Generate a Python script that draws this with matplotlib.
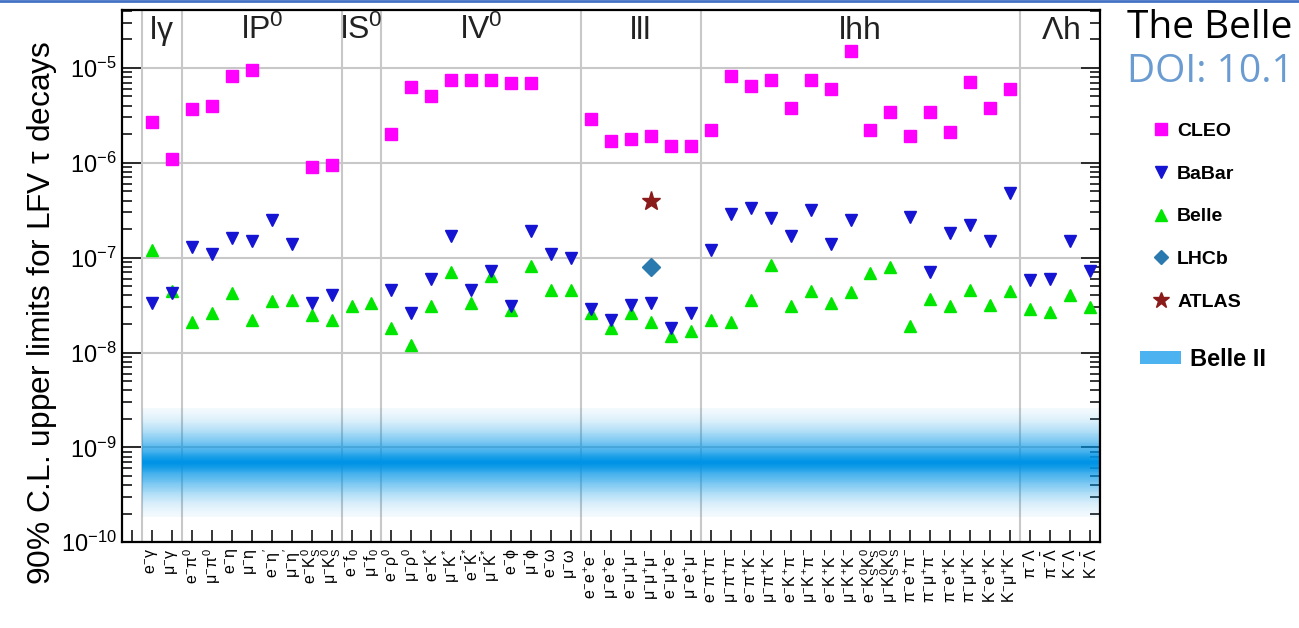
import numpy as np
import matplotlib
matplotlib.use('Agg')
import matplotlib.pyplot as plt
from matplotlib.lines import Line2D
from matplotlib.patches import Patch
from matplotlib.colors import LinearSegmentedColormap

plt.rcParams['font.family'] = ['Liberation Sans', 'DejaVu Sans']
plt.rcParams['mathtext.fontset'] = 'custom'
plt.rcParams['mathtext.rm'] = 'Liberation Sans'
plt.rcParams['mathtext.it'] = 'Liberation Sans'
plt.rcParams['mathtext.bf'] = 'Liberation Sans:bold'
plt.rcParams['mathtext.sf'] = 'Liberation Sans'

nan = np.nan

# decay channels (tau- -> ...), in plot order
channels = [r'$e^{-}\gamma$', r'$\mu^{-}\gamma$',
            r'$e^{-}\pi^{0}$', r'$\mu^{-}\pi^{0}$', r'$e^{-}\eta$', r'$\mu^{-}\eta$',
            r"$e^{-}\eta^{\prime}$", r"$\mu^{-}\eta^{\prime}$", r'$e^{-}K_{S}^{0}$', r'$\mu^{-}K_{S}^{0}$',
            r'$e^{-}f_{0}$', r'$\mu^{-}f_{0}$',
            r'$e^{-}\rho^{0}$', r'$\mu^{-}\rho^{0}$', r'$e^{-}K^{*}$', r'$\mu^{-}K^{*}$',
            r'$e^{-}\bar{K}^{*}$', r'$\mu^{-}\bar{K}^{*}$', r'$e^{-}\phi$', r'$\mu^{-}\phi$',
            r'$e^{-}\omega$', r'$\mu^{-}\omega$',
            r'$e^{-}e^{+}e^{-}$', r'$\mu^{-}e^{+}e^{-}$', r'$e^{-}\mu^{+}\mu^{-}$',
            r'$\mu^{-}\mu^{+}\mu^{-}$', r'$e^{-}\mu^{+}e^{-}$', r'$\mu^{-}e^{+}\mu^{-}$',
            r'$e^{-}\pi^{+}\pi^{-}$', r'$\mu^{-}\pi^{+}\pi^{-}$', r'$e^{-}\pi^{+}K^{-}$', r'$\mu^{-}\pi^{+}K^{-}$',
            r'$e^{-}K^{+}\pi^{-}$', r'$\mu^{-}K^{+}\pi^{-}$', r'$e^{-}K^{+}K^{-}$', r'$\mu^{-}K^{+}K^{-}$',
            r'$e^{-}K_{S}^{0}K_{S}^{0}$', r'$\mu^{-}K_{S}^{0}K_{S}^{0}$',
            r'$\pi^{-}e^{+}\pi^{-}$', r'$\pi^{-}\mu^{+}\pi^{-}$', r'$\pi^{-}e^{+}K^{-}$', r'$\pi^{-}\mu^{+}K^{-}$',
            r'$K^{-}e^{+}K^{-}$', r'$K^{-}\mu^{+}K^{-}$',
            r'$\pi^{-}\Lambda$', r'$\pi^{-}\bar{\Lambda}$', r'$K^{-}\Lambda$', r'$K^{-}\bar{\Lambda}$']

groups = [r'l$\gamma$', r'lP$^{0}$', r'lS$^{0}$', r'lV$^{0}$', 'lll', 'lhh', r'$\Lambda$h']
group_sizes = [2, 8, 2, 10, 6, 16, 4]

cleo = [2.7e-6, 1.1e-6, 3.7e-6, 4.0e-6, 8.2e-6, 9.6e-6, nan, nan, 9.1e-7, 9.5e-7,
        nan, nan,
        2.0e-6, 6.3e-6, 5.1e-6, 7.5e-6, 7.4e-6, 7.5e-6, 6.9e-6, 7.0e-6, nan, nan,
        2.9e-6, 1.7e-6, 1.8e-6, 1.9e-6, 1.5e-6, 1.5e-6,
        2.2e-6, 8.2e-6, 6.4e-6, 7.5e-6, 3.8e-6, 7.4e-6, 6.0e-6, 1.5e-5,
        2.2e-6, 3.4e-6, 1.9e-6, 3.4e-6, 2.1e-6, 7.1e-6, 3.8e-6, 6.0e-6,
        nan, nan, nan, nan]

babar = [3.3e-8, 4.2e-8, 1.3e-7, 1.1e-7, 1.6e-7, 1.5e-7, 2.5e-7, 1.4e-7, 3.3e-8, 4.0e-8,
         nan, nan,
         4.6e-8, 2.6e-8, 5.9e-8, 1.7e-7, 4.6e-8, 7.3e-8, 3.1e-8, 1.9e-7, 1.1e-7, 1.0e-7,
         2.9e-8, 2.2e-8, 3.2e-8, 3.3e-8, 1.8e-8, 2.6e-8,
         1.2e-7, 2.9e-7, 3.3e-7, 2.6e-7, 1.7e-7, 3.2e-7, 1.4e-7, 2.5e-7,
         nan, nan, 2.7e-7, 7.0e-8, 1.8e-7, 2.2e-7, 1.5e-7, 4.8e-7,
         5.8e-8, 5.9e-8, 1.5e-7, 7.2e-8]

belle = [1.2e-7, 4.5e-8, 2.1e-8, 2.6e-8, 4.2e-8, 2.2e-8, 3.5e-8, 3.6e-8, 2.5e-8, 2.2e-8,
         3.1e-8, 3.3e-8,
         1.8e-8, 1.2e-8, 3.1e-8, 7.0e-8, 3.3e-8, 6.4e-8, 2.8e-8, 8.1e-8, 4.6e-8, 4.6e-8,
         2.6e-8, 1.8e-8, 2.6e-8, 2.1e-8, 1.5e-8, 1.7e-8,
         2.2e-8, 2.1e-8, 3.6e-8, 8.4e-8, 3.1e-8, 4.4e-8, 3.3e-8, 4.3e-8,
         6.9e-8, 7.9e-8, 1.9e-8, 3.7e-8, 3.1e-8, 4.6e-8, 3.2e-8, 4.5e-8,
         2.9e-8, 2.7e-8, 4.0e-8, 3.0e-8]

lhcb_chan, lhcb = [25], [8.0e-8]
atlas_chan, atlas = [25], [4.0e-7]

# Belle II expected reach (band)
belle2_lo, belle2_hi = 1.85e-10, 2.6e-9

x = np.arange(len(channels))

fig = plt.figure(figsize=(12.99, 6.28), dpi=100)
ax = fig.add_axes([122/1299, 1 - 542.3/628, 978/1299, 532.3/628])

# group separators and decade grid
edges = np.concatenate([[-0.5], np.cumsum(group_sizes) - 0.5])
for b in edges[:-1]:
    ax.axvline(b, color='#c8c8c8', lw=1.5, zorder=0.5)
ax.set_yscale('log')
ax.yaxis.grid(True, which='major', color='#c8c8c8', lw=1.5)
ax.set_axisbelow(True)

# Belle II band with a soft vertical gradient (even steps in log space)
n = 120
yb = np.logspace(np.log10(belle2_lo), np.log10(belle2_hi), n + 1)
t = np.linspace(-1, 1, n)
alpha = np.clip(0.8*np.exp(-t**2/(2*0.42**2)) + 0.2*np.exp(-t**2/(2*0.1**2)), 0, 1)
band_cmap = LinearSegmentedColormap.from_list('b2', [(0.0, 0.58, 0.9, 0.0), (0.0, 0.58, 0.9, 1.0)])
ax.pcolormesh([edges[0], edges[-1]], yb, alpha[:, None], cmap=band_cmap, vmin=0, vmax=1,
              shading='flat', zorder=1, edgecolors='none', antialiased=False)

ax.plot(x, belle, '^', color='#00e600', ms=8, ls='none', zorder=3)
ax.plot(x, babar, 'v', color='#1414d2', ms=8, ls='none', zorder=3)
ax.plot(x, cleo, 's', color='#ff00ff', ms=8, ls='none', zorder=3)
ax.plot(lhcb_chan, lhcb, 'D', color='#2a7ab0', ms=9, ls='none', zorder=4)
ax.plot(atlas_chan, atlas, '*', color='#8b1a1a', ms=14, ls='none', zorder=4)

ax.set_xlim(-1.5, 47.5)
ax.set_ylim(1e-10, 10**-4.39)

ax.set_xticks(np.arange(-1, len(channels)))
ax.set_xticklabels([''] + channels, rotation=90, fontsize=11.5)
ax.tick_params(axis='x', which='both', direction='in', length=8.5, width=1.1, pad=4, top=False)
ax.tick_params(axis='y', which='major', direction='in', length=13.5, width=1.1, right=True, labelsize=17, pad=4)
ax.tick_params(axis='y', which='minor', direction='in', length=7, width=1.1, right=True)
for s in ax.spines.values():
    s.set_linewidth(1.6)

# group names at the top of each block
for name, lo, hi in zip(groups, edges[:-1], edges[1:]):
    ax.text((lo + hi)/2, 0.9455, name, transform=ax.get_xaxis_transform(),
            ha='center', va='baseline', fontsize=23, color='#222222')

fig.text(42/1299, 1 - 313/628, r'90% C.L. upper limits for LFV $\tau$ decays',
         rotation=90, ha='center', va='center', fontsize=22.8)

# legend
handles = [Line2D([], [], marker='s', ls='none', color='#ff00ff', ms=8),
           Line2D([], [], marker='v', ls='none', color='#1414d2', ms=8),
           Line2D([], [], marker='^', ls='none', color='#00e600', ms=8),
           Line2D([], [], marker='D', ls='none', color='#2a7ab0', ms=7),
           Line2D([], [], marker='*', ls='none', color='#8b1a1a', ms=12)]
leg1 = ax.legend(handles, ['CLEO', 'BaBar', 'Belle', 'LHCb', 'ATLAS'],
                 loc='upper left', bbox_to_anchor=(1151/1299, 1 - 122/628),
                 bbox_transform=fig.transFigure, frameon=False, borderpad=0, borderaxespad=0,
                 handlelength=1.0, handletextpad=0.35, labelspacing=1.3,
                 prop={'weight': 'bold', 'size': 14})
ax.add_artist(leg1)
ax.legend([Patch(facecolor='#4db2f0', edgecolor='none')], ['Belle II'],
          loc='upper left', bbox_to_anchor=(1140/1299, 1 - 348/628),
          bbox_transform=fig.transFigure, frameon=False, borderpad=0, borderaxespad=0,
          handlelength=1.75, handleheight=0.5, handletextpad=0.35,
          prop={'weight': 'bold', 'size': 17})

fig.text(1127/1299, 1 - 38/628, 'The Belle', fontsize=28, family='Open Sans', va='baseline')
fig.text(1127/1299, 1 - 82/628, 'DOI: 10.1', fontsize=28, family='Open Sans', va='baseline',
         color='#6a9bd1')
fig.add_artist(Line2D([0, 1], [1 - 1/628, 1 - 1/628], color='#4472c4', lw=2,
                      transform=fig.transFigure))

fig.savefig('out.png', dpi=100)
